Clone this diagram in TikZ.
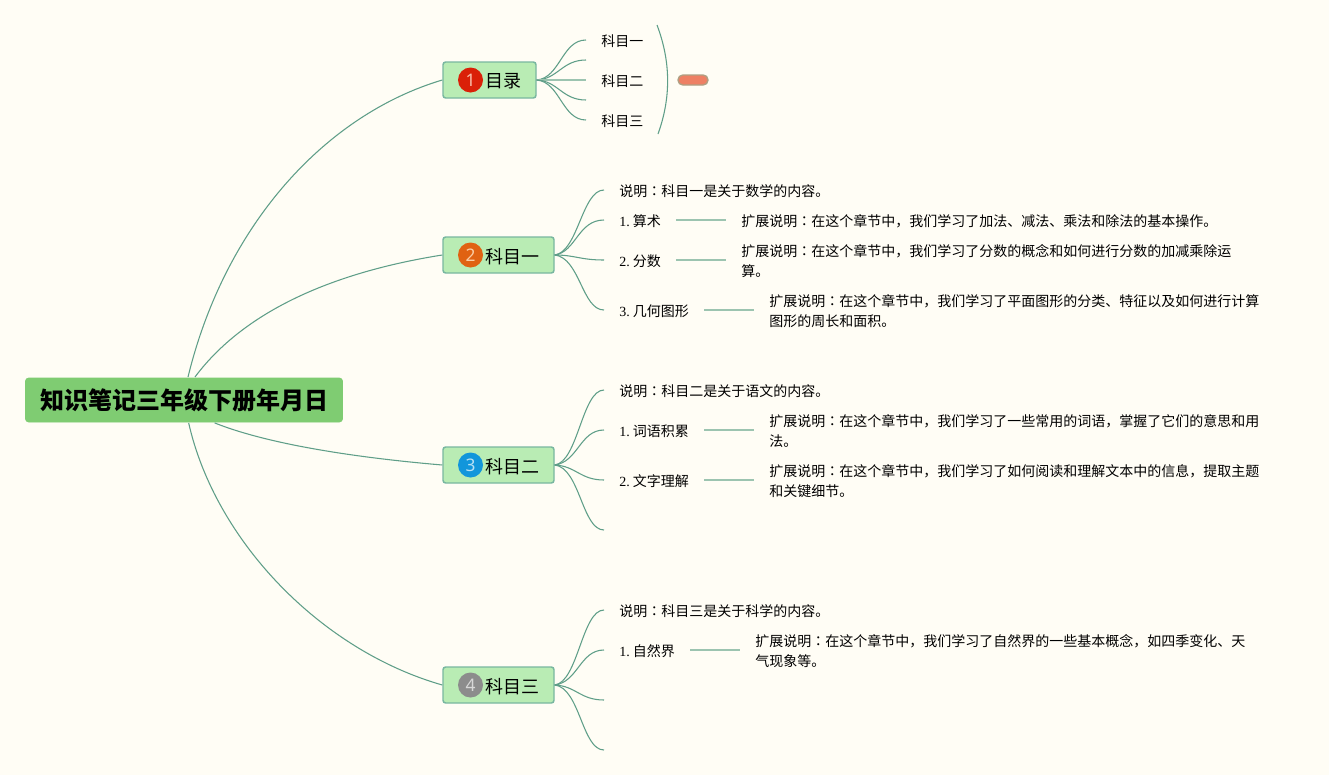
\documentclass[tikz,border=0pt]{standalone}
\usepackage{fontspec}
\setmainfont{Liberation Serif}
\newfontfamily\cjk{Noto Sans CJK SC}
\newfontfamily\cjktc{Noto Sans CJK TC}
\def\px{0.75pt}
\def\ly{0.75pt}
\definecolor{bgc}{HTML}{FFFDF5}
\definecolor{linec}{HTML}{5F9E88}
\definecolor{straightc}{HTML}{9CC4B0}
\definecolor{boxfill}{HTML}{B9ECB4}
\definecolor{boxline}{HTML}{79B7A0}
\definecolor{rootfill}{HTML}{7FCC72}
\definecolor{pillfill}{HTML}{EE8064}
\definecolor{pillline}{HTML}{AFA083}
\newcommand{\cl}{{\cjktc ：}}
\newcommand{\nsp}{\hspace{2.25pt}}
\tikzset{
  rootbox/.style={draw=rootfill,fill=rootfill,rounded corners=2.2pt,minimum width=317*\px,minimum height=44*\px,inner sep=0pt,font=\fontsize{18pt}{20pt}\cjk\bfseries,text=black},
  subjbox/.style={draw=boxline,fill=boxfill,line width=1.1pt,rounded corners=2pt,minimum height=36*\px,inner sep=0pt},
  subjtext/.style={font=\fontsize{13.5pt}{16pt}\cjk,inner sep=0pt,anchor=west,text=black},
  marker/.style={circle,inner sep=0pt,minimum size=25*\px,font=\fontsize{13pt}{15pt}\fontspec{Noto Sans}},
  leaf/.style={anchor=west,inner xsep=15*\px,inner ysep=0pt,align=left,text=black,font=\fontsize{10.5pt}{15pt}\selectfont\cjk},
  num/.style={leaf,font=\fontsize{10.5pt}{15pt}\selectfont},
  curve/.style={draw=linec,line width=0.8pt},
  stub/.style={draw=linec,line width=1.6pt},
  straight/.style={draw=straightc,line width=1.1pt},
  brk/.style={draw=linec,line width=0.8pt},
  pill/.style={draw=pillline,fill=pillfill,line width=1pt,rounded corners=3.6pt,minimum width=30*\px,minimum height=10*\px,inner sep=0pt}
}
\begin{document}
\begin{tikzpicture}[x=0.75pt,y=-0.75pt]
\useasboundingbox[fill=bgc] (0,0) rectangle (1329,775);
% root
\node[rootbox] (root) at (184,400) {\raisebox{-1pt}{\hspace{1pt}知识笔记三年级下册年月日}};
% subject boxes
\node[subjbox,minimum width=93*\px] (s1) at (489.5,80) {};
\node[subjbox,minimum width=111*\px] (s2) at (498.5,255) {};
\node[subjbox,minimum width=111*\px] (s3) at (498.5,465) {};
\node[subjbox,minimum width=111*\px] (s4) at (498.5,685) {};
\node[marker,fill={rgb,255:red,218;green,32;blue,8},text={rgb,255:red,250;green,190;blue,170}] (m1) at (470.5,80) {1};
\node[marker,fill={rgb,255:red,224;green,98;blue,18},text={rgb,255:red,250;green,205;blue,165}] (m2) at (470.5,255) {2};
\node[marker,fill={rgb,255:red,18;green,150;blue,219},text={rgb,255:red,185;green,225;blue,245}] (m3) at (470.5,465) {3};
\node[marker,fill={rgb,255:red,140;green,140;blue,140},text={rgb,255:red,215;green,215;blue,215}] (m4) at (470.5,685) {4};
\node[subjtext] (t1) at (485.5,81.5) {目录};
\node[subjtext] (t2) at (485.5,256.5) {科目一};
\node[subjtext] (t3) at (485.5,466.5) {科目二};
\node[subjtext] (t4) at (485.5,686.5) {科目三};
% subject 1 children
\node[leaf] (a1) at (586,41) {科目一};
\node[leaf] (a2) at (586,81) {科目二};
\node[leaf] (a3) at (586,121) {科目三};
\coordinate (a1b) at (586,60);
\coordinate (a2b) at (586,100);
\coordinate (brtop) at (657,25);
\coordinate (brbot) at (658,134);
\node[pill] (pl) at (693,80) {};
% subject 2 children
\node[leaf] (b0) at (604,191) {说明\cl 科目一是关于数学的内容。};
\node[num] (b1) at (604,221) {1.\nsp{\cjk 算术}};
\node[num] (b2) at (604,261) {2.\nsp{\cjk 分数}};
\node[num] (b3) at (604,311) {3.\nsp{\cjk 几何图形}};
\node[leaf] (b1x) at (726,221) {扩展说明\cl 在这个章节中，我们学习了加法、减法、乘法和除法的基本操作。};
\node[leaf] (b2x) at (726,261) {扩展说明\cl 在这个章节中，我们学习了分数的概念和如何进行分数的加减乘除运\\算。};
\node[leaf] (b3x) at (754,311) {扩展说明\cl 在这个章节中，我们学习了平面图形的分类、特征以及如何进行计算\\图形的周长和面积。};
% subject 3 children
\node[leaf] (c0) at (604,391) {说明\cl 科目二是关于语文的内容。};
\node[num] (c1) at (604,431) {1.\nsp{\cjk 词语积累}};
\node[num] (c2) at (604,481) {2.\nsp{\cjk 文字理解}};
\coordinate (c3) at (604,530);
\node[leaf] (c1x) at (754,431) {扩展说明\cl 在这个章节中，我们学习了一些常用的词语，掌握了它们的意思和用\\法。};
\node[leaf] (c2x) at (754,481) {扩展说明\cl 在这个章节中，我们学习了如何阅读和理解文本中的信息，提取主题\\和关键细节。};
% subject 4 children
\node[leaf] (d0) at (604,611) {说明\cl 科目三是关于科学的内容。};
\node[num] (d1) at (604,651) {1.\nsp{\cjk 自然界}};
\coordinate (d2) at (604,700);
\coordinate (d3) at (604,750);
\node[leaf] (d1x) at (740,651) {扩展说明\cl 在这个章节中，我们学习了自然界的一些基本概念，如四季变化、天\\气现象等。};
% root connectors
\draw[curve] ([xshift=3pt,yshift=0.5pt]root.north) .. controls (225,225) and (325,115) .. (s1.west);
\draw[curve] ([xshift=8.2pt,yshift=0.5pt]root.north) .. controls (245,310) and (335,272) .. (s2.west);
\draw[curve] ([xshift=23pt,yshift=-0.5pt]root.south) .. controls (270,445) and (360,458) .. (s3.west);
\draw[curve] ([xshift=3.5pt,yshift=-0.5pt]root.south) .. controls (215,540) and (320,650) .. (s4.west);
% subject 1
\draw[stub] (s1.east) -- ([xshift=6pt]s1.east);
\draw[curve] (s1.east) .. controls (560,78) and (562,40) .. ([yshift=\ly]a1.west);
\draw[curve] (s1.east) .. controls (558,79) and (562,60) .. (a1b);
\draw[straight] (s1.east) -- ([yshift=\ly]a2.west);
\draw[curve] (s1.east) .. controls (558,81) and (562,100) .. (a2b);
\draw[curve] (s1.east) .. controls (560,82) and (562,120) .. ([yshift=\ly]a3.west);
\draw[brk] (brtop) .. controls (671,62) and (671,98) .. (brbot);
\draw[stub] (s2.east) -- ([xshift=3.5pt]s2.east);
\draw[stub] (s3.east) -- ([xshift=3.5pt]s3.east);
\draw[stub] (s4.east) -- ([xshift=3.5pt]s4.east);
% subject 2
\draw[curve] (s2.east) .. controls (578,252) and (582,190) .. ([yshift=\ly]b0.west);
\draw[curve] (s2.east) .. controls (576,252) and (578,220) .. ([yshift=\ly]b1.west);
\draw[curve] (s2.east) .. controls (575,255) and (580,260) .. ([yshift=\ly]b2.west);
\draw[curve] (s2.east) .. controls (580,258) and (582,310) .. ([yshift=\ly]b3.west);
\draw[straight] ([yshift=\ly]b1.east) -- ([yshift=\ly]b1x.west);
\draw[straight] ([yshift=\ly]b2.east) -- ([yshift=\ly]b2x.west);
\draw[straight] ([yshift=\ly]b3.east) -- ([yshift=\ly]b3x.west);
% subject 3
\draw[curve] (s3.east) .. controls (578,462) and (582,390) .. ([yshift=\ly]c0.west);
\draw[curve] (s3.east) .. controls (578,462) and (580,430) .. ([yshift=\ly]c1.west);
\draw[curve] (s3.east) .. controls (576,466) and (580,480) .. ([yshift=\ly]c2.west);
\draw[curve] (s3.east) .. controls (580,468) and (582,530) .. (c3);
\draw[straight] ([yshift=\ly]c1.east) -- ([yshift=\ly]c1x.west);
\draw[straight] ([yshift=\ly]c2.east) -- ([yshift=\ly]c2x.west);
% subject 4
\draw[curve] (s4.east) .. controls (578,682) and (582,610) .. ([yshift=\ly]d0.west);
\draw[curve] (s4.east) .. controls (578,682) and (580,650) .. ([yshift=\ly]d1.west);
\draw[curve] (s4.east) .. controls (576,686) and (580,700) .. (d2);
\draw[curve] (s4.east) .. controls (580,688) and (582,750) .. (d3);
\draw[straight] ([yshift=\ly]d1.east) -- ([yshift=\ly]d1x.west);
\end{tikzpicture}
\end{document}
